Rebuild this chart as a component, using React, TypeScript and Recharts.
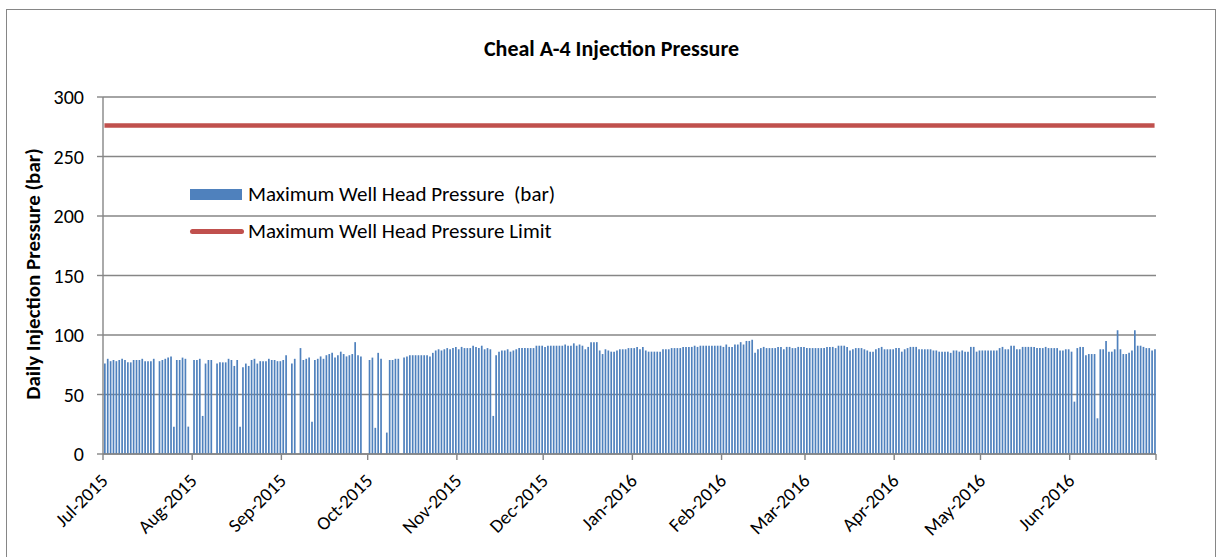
import {
  ComposedChart, Bar, Line, XAxis, YAxis, CartesianGrid, Legend
} from 'recharts'

const FONT = 'Carlito, Lato, "Open Sans", sans-serif'

// daily maximum well head pressure (bar), one array per month, null = no reading
const jul2015 = [76, 80, 78, 79, 78, 79, 80, 79, 77, 77, 79, 79, 79, 80, 78, 78, 78, 80, null, 78, 79, 80, 81, 82, 23, 79, 79, 81, 80, 23, null]
const aug2015 = [79, 79, 80, 32, 76, 79, 79, null, 76, 77, 77, 77, 80, 79, 74, 79, 23, 73, 76, 74, 79, 80, 76, 78, 78, 78, 80, 79, 79, 78, 78]
const sep2015 = [79, 83, null, 76, 80, null, 89, 79, 80, 81, 27, 79, 80, 82, 80, 83, 84, 85, 81, 83, 86, 84, 82, 83, 84, 94, 83, 82, null, null]
const oct2015 = [79, 81, 22, 85, 80, null, 18, 79, 79, 80, 80, null, 81, 82, 83, 83, 83, 83, 83, 83, 83, 82, 85, 87, 88, 87, 88, 89, 88, 89, 90]
const nov2015 = [88, 90, 89, 89, 89, 91, 90, 89, 91, 88, 89, 88, 32, 83, 86, 87, 87, 88, 86, 87, 88, 89, 89, 89, 89, 89, 89, 91, 91, 91]
const dec2015 = [90, 91, 91, 91, 91, 91, 91, 92, 91, 91, 93, 91, 92, 91, 88, 90, 94, 94, 94, 87, 84, 88, 87, 86, 86, 87, 88, 88, 88, 89, 89]
const jan2016 = [89, 90, 88, 90, 87, 86, 86, 86, 86, 86, 88, 88, 88, 89, 89, 89, 89, 90, 90, 90, 90, 91, 90, 91, 91, 91, 91, 91, 91, 91, 91]
const feb2016 = [90, 92, 90, 90, 92, 92, 94, 92, 95, 95, 96, 85, 88, 89, 90, 89, 89, 89, 89, 90, 90, 88, 90, 90, 89, 89, 90, 90, 90]
const mar2016 = [89, 89, 89, 89, 89, 89, 89, 90, 90, 90, 89, 91, 91, 91, 90, 87, 88, 89, 89, 89, 88, 87, 86, 86, 88, 89, 90, 88, 88, 88, 88]
const apr2016 = [89, 89, 86, 88, 89, 90, 90, 90, 88, 88, 88, 88, 88, 87, 87, 86, 86, 86, 86, 85, 87, 87, 86, 87, 86, 86, 90, 90, 86, 87]
const may2016 = [87, 87, 87, 87, 87, 87, 89, 90, 88, 88, 91, 91, 88, 88, 90, 90, 90, 90, 90, 89, 89, 89, 90, 89, 89, 89, 89, 87, 87, 88, 88]
const jun2016 = [86, 44, 89, 90, 90, 83, 84, 84, 84, 30, 88, 88, 95, 86, 86, 88, 104, 88, 84, 84, 85, 87, 104, 91, 91, 90, 89, 89, 87, 88]

const months = [jul2015, aug2015, sep2015, oct2015, nov2015, dec2015, jan2016, feb2016, mar2016, apr2016, may2016, jun2016]
const monthLabels = ['Jul-2015', 'Aug-2015', 'Sep-2015', 'Oct-2015', 'Nov-2015', 'Dec-2015',
  'Jan-2016', 'Feb-2016', 'Mar-2016', 'Apr-2016', 'May-2016', 'Jun-2016']

const pressureLimit = 276
const yTicks = [0, 50, 100, 150, 200, 250, 300]

// month start positions (day index) for the x ticks
const monthStarts: number[] = []
let dayCount = 0
months.forEach((m) => {
  monthStarts.push(dayCount)
  dayCount += m.length
})
const xTicks = [...monthStarts, dayCount]

const data = months.flat().map((v, i) => ({
  day: i + 0.5,
  pressure: v,
  limit: pressureLimit,
}))

const tickLabel = (value: number) => {
  const idx = monthStarts.indexOf(value)
  return idx >= 0 ? monthLabels[idx] : ''
}

const MonthTick = (props: any) => {
  const { x, y, payload } = props
  return (
    <g transform={`translate(${x + 6},${y + 20})`}>
      <text textAnchor="end" transform="rotate(-45)" fontSize={19} fill="#000" fontFamily={FONT}>
        {tickLabel(payload.value)}
      </text>
    </g>
  )
}

const LegendBox = () => (
  <div style={{ fontFamily: FONT, fontSize: 21, color: '#000' }}>
    <div style={{ display: 'flex', alignItems: 'center', height: 26 }}>
      <span style={{ display: 'inline-block', width: 52, height: 11, background: '#4F81BD', marginRight: 6 }} />
      Maximum Well Head Pressure&nbsp; (bar)
    </div>
    <div style={{ display: 'flex', alignItems: 'center', height: 26, marginTop: 11 }}>
      <span style={{ display: 'inline-block', width: 54, height: 5, borderRadius: 3, background: '#C0504D', marginRight: 4 }} />
      Maximum Well Head Pressure Limit
    </div>
  </div>
)

const App = () => {
  return (
    <div style={{ position: 'absolute', left: 0, top: 0, width: 1223, height: 557, background: '#fff', overflow: 'hidden' }}>
      <div style={{ position: 'absolute', left: 6, top: 9, width: 1210, height: 600, border: '1.5px solid #868686', boxSizing: 'border-box' }} />
      <div style={{
        position: 'absolute', left: 0, top: 35, width: 1223, textAlign: 'center',
        fontFamily: FONT, fontWeight: 'bold', fontSize: 22, color: '#000'
      }}>
        Cheal A-4 Injection Pressure
      </div>
      <div style={{ position: 'absolute', left: 33, top: 274, width: 0, height: 0 }}>
        <span style={{
          position: 'absolute', left: 0, top: 0, whiteSpace: 'nowrap',
          transform: 'translate(-50%, -50%) rotate(-90deg)',
          fontFamily: FONT, fontWeight: 'bold', fontSize: 21, color: '#000'
        }}>
          Daily Injection Pressure (bar)
        </span>
      </div>
      <div style={{ position: 'absolute', left: 0, top: 0 }}>
        <ComposedChart width={1223} height={557} data={data}
          margin={{ top: 97, right: 67, bottom: 20, left: 43 }}>
          <CartesianGrid horizontal vertical={false} stroke="#868686" strokeWidth={1.4} />
          <XAxis dataKey="day" type="number" domain={[0, dayCount]} ticks={xTicks}
            interval={0} height={83} stroke="#868686" strokeWidth={1.4}
            tickSize={6} tickMargin={2} tick={<MonthTick />} allowDataOverflow />
          <YAxis domain={[0, 300]} ticks={yTicks} width={60} stroke="#868686" strokeWidth={1.4}
            tickSize={6} tickMargin={13} interval={0}
            tick={{ fill: '#000', fontSize: 20, fontFamily: FONT }} />
          <YAxis yAxisId="right" orientation="right" width={0} domain={[0, 300]}
            tick={false} tickLine={false} stroke="#868686" strokeWidth={1.4} />
          <Legend layout="vertical" align="center" verticalAlign="middle"
            wrapperStyle={{ left: 190, top: 181, width: 440 }} content={<LegendBox />} />
          <Bar dataKey="pressure" name="Maximum Well Head Pressure  (bar)" fill="#4F81BD"
            barSize={1.7} isAnimationActive={false} />
          <Line dataKey="limit" name="Maximum Well Head Pressure Limit" stroke="#C0504D"
            strokeWidth={4.5} dot={false} activeDot={false} type="linear" isAnimationActive={false} />
        </ComposedChart>
      </div>
    </div>
  )
}

export default App
